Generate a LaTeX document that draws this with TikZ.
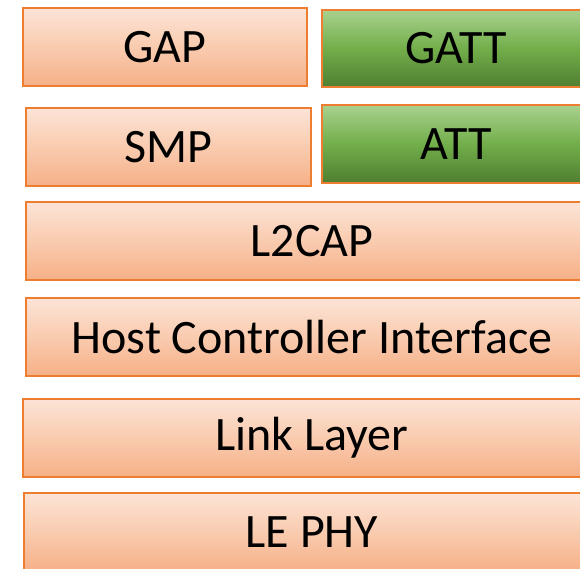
\documentclass[tikz,border=0pt]{standalone}
\usepackage{fontspec}
\setmainfont{Carlito}
\definecolor{orline}{HTML}{ED7D31}
\definecolor{ortop}{HTML}{FCE4D7}
\definecolor{ormid}{HTML}{F9CBAF}
\definecolor{orbot}{HTML}{F6B087}
\definecolor{grtop}{HTML}{A9D18E}
\definecolor{grmid}{HTML}{72AE4A}
\definecolor{grbot}{HTML}{4F7E31}
\tikzset{
  orbox/.style={draw=orline, line width=1.5pt, top color=ortop, bottom color=orbot, middle color=ormid, font=\fontsize{48}{52}\selectfont, inner sep=0pt},
  grbox/.style={draw=orline, line width=1.5pt, top color=grtop, bottom color=grbot, middle color=grmid, font=\fontsize{48}{52}\selectfont, inner sep=0pt}
}
\begin{document}
\begin{tikzpicture}[x=1pt,y=-1pt]
\useasboundingbox (0,0) rectangle (580,568);
\clip (0,0) rectangle (580,568);
\fill[white] (0,0) rectangle (580,568);
\node[orbox, minimum width=284pt, minimum height=78pt] (gap) at (165,47) {GAP};
\node[grbox, minimum width=268pt, minimum height=77pt] (gatt) at (456,48.5) {GATT};
\node[orbox, minimum width=285pt, minimum height=78pt] (smp) at (168.5,147) {SMP};
\node[grbox, minimum width=268pt, minimum height=78pt] (att) at (456,144) {ATT};
\node[orbox, minimum width=572pt, minimum height=78pt] (l2cap) at (312,241) {L2CAP};
\node[orbox, minimum width=572pt, minimum height=78pt] (hci) at (312,337) {Host Controller Interface};
\node[orbox, minimum width=578pt, minimum height=78pt] (ll) at (312,438) {Link Layer};
\node[orbox, minimum width=576pt, minimum height=78pt] (phy) at (312,532) {LE PHY};
\end{tikzpicture}
\end{document}
